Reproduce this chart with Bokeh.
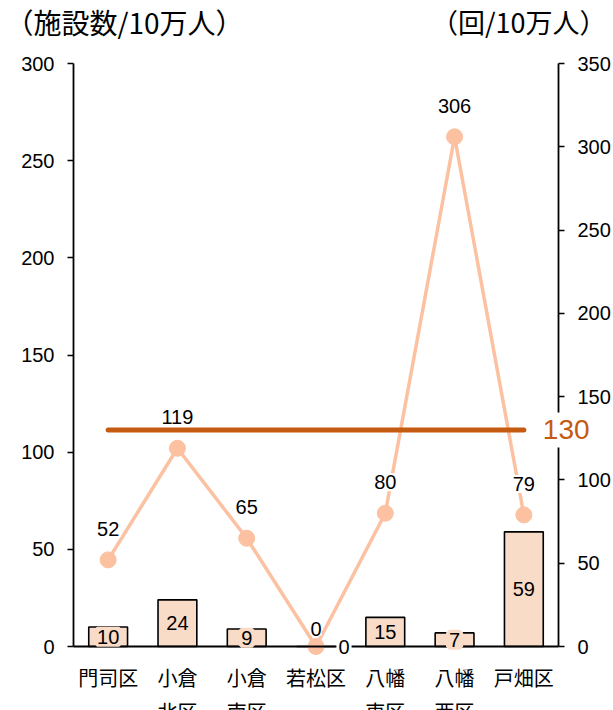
from bokeh.plotting import figure
from bokeh.models import (Range1d, LinearAxis, FixedTicker,
                          ColumnDataSource, LabelSet, Label)
from bokeh.core.properties import value
from bokeh.embed import file_html
from bokeh.resources import INLINE

# 北九州市 各区の施設数と利用回数（人口10万人あたり）
wards = ["門司区", "小倉北区", "小倉南区", "若松区", "八幡東区", "八幡西区", "戸畑区"]
ward_labels = ["門司区", "小倉\n北区", "小倉\n南区", "若松区", "八幡\n東区", "八幡\n西区", "戸畑区"]
facilities = [10, 24, 9, 0, 15, 7, 59]      # 施設数/10万人（左軸）
visits = [52, 119, 65, 0, 80, 306, 79]      # 回/10万人（右軸）
visits_city = 130                           # 市全体
left_ticks = [0, 50, 100, 150, 200, 250, 300]
right_ticks = [0, 50, 100, 150, 200, 250, 300, 350]

BAR = "#F8DCC8"
LINE = "#FBC1A1"
AVG = "#C55A11"
TXT = "black"
NUM_FONT = "Liberation Sans"
JP_FONT = "Noto Sans CJK JP"

# canvas and plotting-box geometry (pixels); the frame fills the whole canvas
W, H = 613, 710
BOX_L, BOX_R, BOX_T, BOX_B = 73, 558, 63, 646

n = len(wards)
xpx = (BOX_R - BOX_L) / n                       # pixels per category
x_lo, x_hi = -BOX_L / xpx, n + (W - BOX_R) / xpx
lmax, rmax = left_ticks[-1], right_ticks[-1]
lpx = (BOX_B - BOX_T) / lmax
rpx = (BOX_B - BOX_T) / rmax
l_lo, l_hi = -(H - BOX_B) / lpx, lmax + BOX_T / lpx
r_lo, r_hi = -(H - BOX_B) / rpx, rmax + BOX_T / rpx

xs = [i + 0.5 for i in range(n)]                # category centres

p = figure(width=W, height=H,
           x_range=Range1d(x_lo, x_hi), y_range=Range1d(l_lo, l_hi),
           output_backend="svg", toolbar_location=None,
           min_border=0, min_border_left=0, min_border_right=0,
           min_border_top=0, min_border_bottom=0)
p.extra_y_ranges = {"r": Range1d(r_lo, r_hi)}
p.grid.visible = False
p.outline_line_color = None
p.background_fill_color = "white"
p.border_fill_color = "white"

# x axis: baseline only
xa = p.xaxis[0]
xa.fixed_location = 0
xa.bounds = (0, n)
xa.axis_line_color = "black"
xa.axis_line_width = 1.8
xa.major_tick_line_color = None
xa.minor_tick_line_color = None
xa.major_label_text_color = None
xa.major_label_text_font_size = "2px"


def style_y(ax):
    ax.axis_line_color = "black"
    ax.axis_line_width = 1.8
    ax.major_tick_line_color = "black"
    ax.major_tick_line_width = 1.5
    ax.major_tick_in = 0
    ax.major_tick_out = 6
    ax.minor_tick_line_color = None
    ax.major_label_standoff = 13
    ax.major_label_text_font = NUM_FONT
    ax.major_label_text_font_size = "20px"
    ax.major_label_text_color = TXT


ya = p.yaxis[0]
ya.ticker = FixedTicker(ticks=left_ticks)
ya.fixed_location = 0
ya.bounds = (0, lmax)
style_y(ya)
right_axis = LinearAxis(y_range_name="r", ticker=FixedTicker(ticks=right_ticks),
                        fixed_location=n, bounds=(0, rmax))
style_y(right_axis)
p.add_layout(right_axis, "right")

src = ColumnDataSource(dict(x=xs, name=ward_labels,
                            facilities=facilities, visits=visits))

# bars: facilities per 100k
p.vbar(x="x", top="facilities", width=0.56, source=src,
       fill_color=BAR, line_color="black", line_width=1.6)

# line: visits per 100k
p.line(x="x", y="visits", source=src, y_range_name="r",
       line_color=LINE, line_width=3.5)
p.scatter(x="x", y="visits", source=src, y_range_name="r",
          size=16, fill_color=LINE, line_color=LINE)

# city-wide level
p.line(x=[xs[0], xs[-1]], y=[visits_city, visits_city], y_range_name="r",
       line_color=AVG, line_width=5, line_cap="round", level="overlay")
p.add_layout(Label(x=xs[-1], y=visits_city, y_range_name="r",
                   x_offset=19, text=str(visits_city),
                   text_font=NUM_FONT, text_font_size="28px", text_color=AVG,
                   text_align="left", text_baseline="middle",
                   background_fill_color="white",
                   border_line_color="white", border_line_width=16))

# bar value labels
nz = [i for i, v in enumerate(facilities) if v > 0]
z = [i for i, v in enumerate(facilities) if v == 0]
bar_nz = ColumnDataSource(dict(x=[xs[i] for i in nz],
                               mid=[facilities[i] / 2 for i in nz],
                               txt=[str(facilities[i]) for i in nz]))
p.add_layout(LabelSet(x="x", y="mid", text="txt", source=bar_nz,
                      text_font=value(NUM_FONT), text_font_size=value("20px"),
                      text_color=TXT,
                      text_align="center", text_baseline="middle",
                      background_fill_color=BAR,
                      border_line_color=BAR, border_line_width=6))
for i in z:
    p.add_layout(Label(x=xs[i], y=facilities[i], x_offset=28, text=str(facilities[i]),
                       text_font=NUM_FONT, text_font_size="20px", text_color=TXT,
                       text_align="center", text_baseline="middle",
                       background_fill_color="white",
                       border_line_color="white", border_line_width=4))

# line value labels
vnz = [i for i, v in enumerate(visits) if v > 0]
vz = [i for i, v in enumerate(visits) if v == 0]
line_nz = ColumnDataSource(dict(x=[xs[i] for i in vnz],
                                y=[visits[i] for i in vnz],
                                txt=[str(visits[i]) for i in vnz]))
p.add_layout(LabelSet(x="x", y="y", text="txt", source=line_nz,
                      y_range_name="r", y_offset=31,
                      text_font=value(NUM_FONT), text_font_size=value("20px"),
                      text_color=TXT,
                      text_align="center", text_baseline="middle",
                      background_fill_color="white",
                      border_line_color="white", border_line_width=4))
for i in vz:
    p.add_layout(Label(x=xs[i], y=visits[i], y_range_name="r", y_offset=18,
                       text=str(visits[i]),
                       text_font=NUM_FONT, text_font_size="20px", text_color=TXT,
                       text_align="center", text_baseline="middle",
                       background_fill_color="white"))

# ward names under the baseline
p.add_layout(LabelSet(x="x", y=0, text="name", source=src,
                      y_offset=-16, text_font=value(JP_FONT), text_font_size=value("20px"),
                      text_color=TXT,
                      text_align="center", text_baseline="top",
                      text_line_height=1.2))

# axis unit captions
p.add_layout(Label(x=x_lo, y=l_hi, x_offset=5, y_offset=-21,
                   text="（施設数/10万人）", text_font=JP_FONT, text_color=TXT,
                   text_font_size="28px", text_align="left", text_baseline="middle"))
p.add_layout(Label(x=x_hi, y=l_hi, x_offset=-7, y_offset=-21,
                   text="（回/10万人）", text_font=JP_FONT, text_color=TXT,
                   text_font_size="27px", text_align="right", text_baseline="middle"))

with open("out.html", "w") as f:
    f.write(file_html(p, INLINE))
